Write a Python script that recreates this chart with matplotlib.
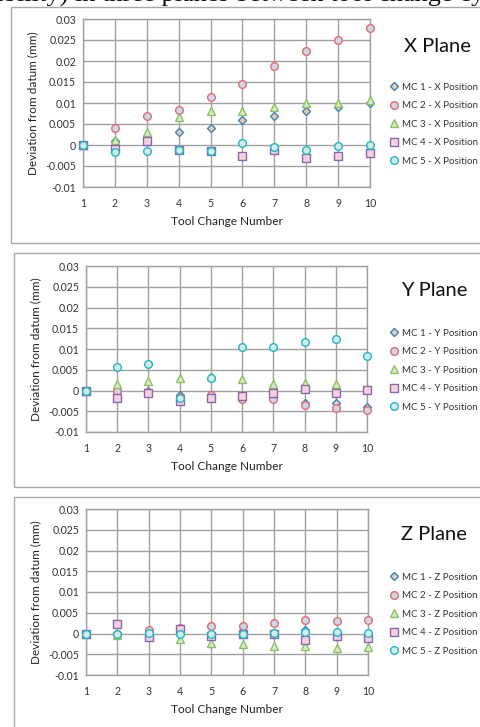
import matplotlib
matplotlib.use("Agg")
import matplotlib.pyplot as plt
from matplotlib.patches import Rectangle

plt.rcParams['font.family'] = ['Lato', 'DejaVu Sans']

tool_change = [1, 2, 3, 4, 5, 6, 7, 8, 9, 10]
y_ticks = [-0.01, -0.005, 0, 0.005, 0.01, 0.015, 0.02, 0.025, 0.03]
y_tick_labels = ['-0.01', '-0.005', '0', '0.005', '0.01', '0.015', '0.02', '0.025', '0.03']

# X plane
mc1_x = [0, 0.001, 0.002, 0.003, 0.004, 0.006, 0.007, 0.008, 0.009, 0.010]
mc2_x = [0, 0.004, 0.007, 0.0083, 0.0115, 0.0145, 0.0188, 0.0223, 0.0251, 0.0279]
mc3_x = [0, 0.0012, 0.0032, 0.0067, 0.0081, 0.0082, 0.0091, 0.0101, 0.0101, 0.0107]
mc4_x = [0, -0.001, 0.0009, -0.0012, -0.0014, -0.0027, -0.0012, -0.0031, -0.0027, -0.002]
mc5_x = [0, -0.0017, -0.0014, -0.0013, -0.0014, 0.0005, -0.0005, -0.0011, -0.0003, -0.0001]

# Y plane
mc1_y = [0, 0, 0, -0.001, -0.0018, -0.0015, -0.0015, -0.003, -0.003, -0.004]
mc2_y = [0, 0, -0.0003, -0.0015, -0.001, -0.002, -0.002, -0.0035, -0.0042, -0.0046]
mc3_y = [0, 0.0016, 0.0023, 0.003, 0.0035, 0.0027, 0.0015, 0.0018, 0.0015, 0.0003]
mc4_y = [0, -0.0019, -0.0005, -0.0025, -0.0017, -0.0014, -0.0006, 0.0004, -0.0007, 0.0002]
mc5_y = [0, 0.0057, 0.0064, -0.0018, 0.0031, 0.0105, 0.0105, 0.0118, 0.0123, 0.0083]

# Z plane
mc1_z = [0, 0, 0, 0, 0, 0.0005, -0.0002, 0.0008, 0.0002, -0.0002]
mc2_z = [0, 0, 0.0009, 0.0013, 0.0017, 0.0017, 0.0026, 0.0033, 0.0029, 0.0033]
mc3_z = [-0.0002, -0.0004, 0, -0.0013, -0.0022, -0.0026, -0.003, -0.003, -0.0036, -0.0032]
mc4_z = [0, 0.0023, -0.0009, 0.001, -0.0006, -0.0001, -0.0001, -0.0016, -0.0005, -0.0012]
mc5_z = [-0.0001, 0, 0.0002, -0.0001, 0, -0.0002, 0.0001, 0.0004, 0.0004, 0.0002]

series_styles = [
    dict(marker='D', ms=4.2, mec='#2e86c9', mfc='#f8c9a0'),
    dict(marker='o', ms=5.5, mec='#e8686b', mfc='#c9d8ea'),
    dict(marker='^', ms=6.0, mec='#8cc060', mfc='#d8ebc8'),
    dict(marker='s', ms=5.2, mec='#8a66b0', mfc='#f6d0dc'),
    dict(marker='o', ms=5.5, mec='#1cb8c8', mfc='#d5ece6'),
]

W, H = 481, 727
fig = plt.figure(figsize=(W / 100, H / 100), dpi=100)

def frac_box(l, r, t, b):
    return [l / W, 1 - b / H, (r - l) / W, (b - t) / H]

# caption line of the source page, mostly cropped at the very top
fig.text(-8 / W, 1 - 1.5 / H, "ability) in three planes between tool change cycles",
         family=['Liberation Serif', 'DejaVu Serif'], fontsize=19, va='baseline',
         ha='left', color='#111111')

panels = [
    dict(title='X Plane', axis='X', data=[mc1_x, mc2_x, mc3_x, mc4_x, mc5_x],
         ax=(83, 370, 19, 187), box=(11, 490, 7, 243), title_xy=(437, 46), leg_y=86),
    dict(title='Y Plane', axis='Y', data=[mc1_y, mc2_y, mc3_y, mc4_y, mc5_y],
         ax=(86, 367, 266, 432), box=(14, 490, 253, 487), title_xy=(434, 291), leg_y=332),
    dict(title='Z Plane', axis='Z', data=[mc1_z, mc2_z, mc3_z, mc4_z, mc5_z],
         ax=(86, 368, 509, 675), box=(14, 490, 497, 740), title_xy=(434, 535), leg_y=576),
]

for p in panels:
    bl, br, bt, bb = p['box']
    fig.patches.append(Rectangle((bl / W, 1 - bb / H), (br - bl) / W, (bb - bt) / H,
                                 transform=fig.transFigure, fill=False,
                                 edgecolor='#a8a8a8', linewidth=1.0))
    ax = fig.add_axes(frac_box(*p['ax']))
    handles = []
    for i, (vals, st) in enumerate(zip(p['data'], series_styles)):
        h, = ax.plot(tool_change, vals, linestyle='none', marker=st['marker'],
                     markersize=st['ms'], markeredgecolor=st['mec'],
                     markerfacecolor=st['mfc'], markeredgewidth=1.0,
                     label=f"MC {i + 1} - {p['axis']} Position", zorder=3 + i,
                     clip_on=False)
        handles.append(h)
    ax.set_xlim(1, 10)
    ax.set_ylim(-0.01, 0.03)
    ax.set_xticks(tool_change)
    ax.set_xticklabels([str(t) for t in tool_change])
    ax.set_yticks(y_ticks)
    ax.set_yticklabels(y_tick_labels)
    ax.grid(True, color='#a0a0a0', linewidth=1.0)
    ax.set_axisbelow(True)
    for s in ax.spines.values():
        s.set_color('#a0a0a0')
        s.set_linewidth(1.0)
    ax.tick_params(length=0, labelsize=7.6, colors='#333333', pad=8)
    ax.tick_params(axis='y', pad=5)
    ax.set_xlabel('Tool Change Number', fontsize=8.6, color='#222222', labelpad=5)
    ax.set_ylabel('Deviation from datum (mm)', fontsize=8.5, color='#222222', labelpad=5)
    tx, ty = p['title_xy']
    fig.text(tx / W, 1 - ty / H, p['title'], fontsize=14.5, ha='center', va='center',
             color='#111111')
    fig.legend(handles=handles, loc='upper left',
               bbox_to_anchor=(382 / W, 1 - (p['leg_y'] - 8) / H),
               frameon=False, fontsize=7, handletextpad=0.1,
               labelspacing=0.97, handlelength=1.5, borderpad=0,
               labelcolor='#333333')

fig.savefig('out.png', dpi=100)
